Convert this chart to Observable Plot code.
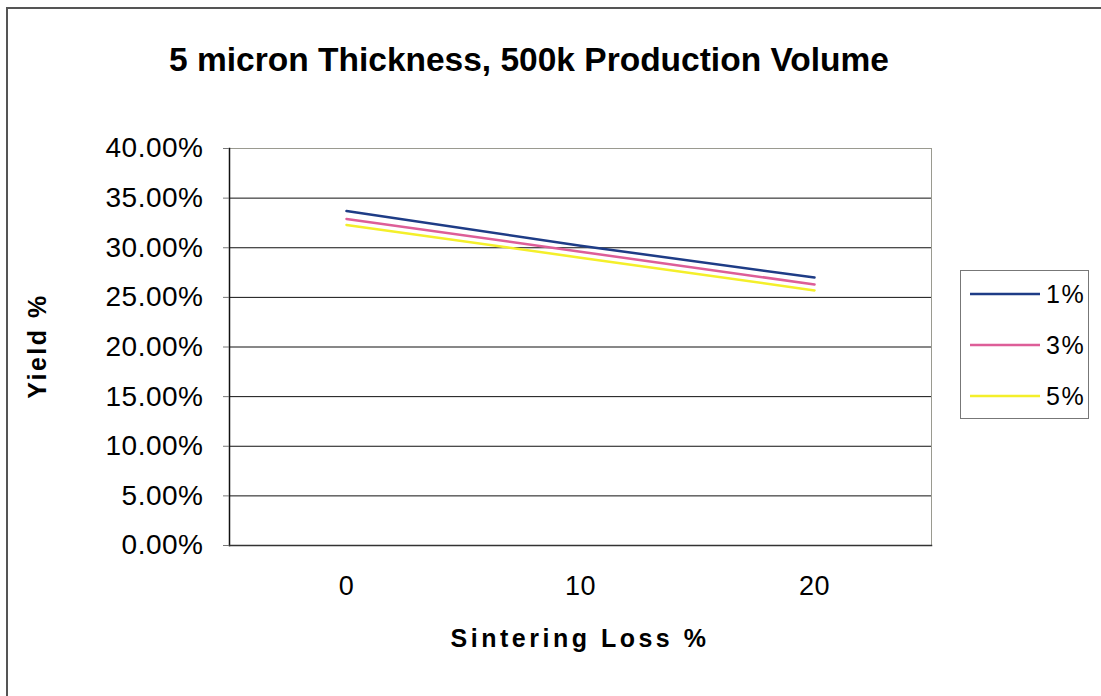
<!DOCTYPE html>
<html>
<head>
<meta charset="utf-8">
<script src="https://cdn.jsdelivr.net/npm/d3@7"></script>
<script src="https://cdn.jsdelivr.net/npm/@observablehq/plot@0.6"></script>
<style>
  html, body { margin: 0; padding: 0; background: #fff; overflow: hidden; }
  body { font-family: "Liberation Sans", Arial, sans-serif; }
  #chart { position: relative; width: 1101px; height: 696px; overflow: hidden; background: #fff; }
  #chart svg.main { position: absolute; left: 0; top: 0; }
  .edge-left { position: absolute; left: 6px; top: 7px; width: 2px; height: 700px; background: #555; }
  .edge-top { position: absolute; left: 6px; top: 7px; width: 1100px; height: 2px; background: #555; }
  .title { position: absolute; left: 0; width: 1058px; top: 41px; text-align: center;
           font-weight: bold; font-size: 33.5px; color: #000; }
  .xlabel { position: absolute; left: 229px; width: 702px; top: 624px; text-align: center;
            font-weight: bold; font-size: 25px; letter-spacing: 3.5px; }
  .ylabel { position: absolute; left: 37px; top: 346px; transform: translate(-50%, -50%) rotate(-90deg);
            font-weight: bold; font-size: 25px; letter-spacing: 2.5px; white-space: nowrap; }
  .legend { position: absolute; left: 960px; top: 270px; width: 129px; height: 149px;
            border: 1px solid #777; box-sizing: border-box; background: #fff; }
  .legend .item { position: absolute; left: 9px; height: 30px; display: flex; align-items: center; }
  .legend .item svg { display: block; }
  .legend .item span { font-size: 25px; margin-left: 6px; letter-spacing: 1.5px; }
</style>
</head>
<body>
<div id="chart"></div>
<script>
// Sintering loss categories on the x axis
const sinteringLoss = ["0", "10", "20"];
// Series (shrinkage %) shown in the legend
const seriesNames = ["1%", "3%", "5%"];
const seriesColors = ["#1e3c86", "#dd5e98", "#f4ef2a"];
// Yield values per series, one per sintering loss category
const yield1 = [0.337, 0.302, 0.270];
const yield3 = [0.329, 0.296, 0.263];
const yield5 = [0.323, 0.290, 0.257];
// Y axis ticks
const yTicks = [0, 0.05, 0.10, 0.15, 0.20, 0.25, 0.30, 0.35, 0.40];

const seriesValues = [yield1, yield3, yield5];
const rows = seriesNames.flatMap((name, i) =>
  sinteringLoss.map((loss, j) => ({series: name, loss, value: seriesValues[i][j]}))
);

const pct = d3.format(".2%");

const plot = Plot.plot({
  width: 1101,
  height: 696,
  marginLeft: 229,
  marginRight: 170,
  marginTop: 148,
  marginBottom: 151,
  style: {fontFamily: '"Liberation Sans", Arial, sans-serif', color: "#000",
          background: "transparent", letterSpacing: "0.5px"},
  x: {type: "point", domain: sinteringLoss, padding: 0.5},
  y: {domain: [0, 0.4]},
  color: {domain: seriesNames, range: seriesColors},
  marks: [
    Plot.gridY(yTicks, {stroke: "#111", strokeOpacity: 1, strokeWidth: 1}),
    Plot.frame({stroke: "#9a9a90", strokeWidth: 1}),
    Plot.frame({anchor: "left", stroke: "#111", strokeWidth: 1.5}),
    Plot.frame({anchor: "bottom", stroke: "#333", strokeWidth: 1.5}),
    Plot.axisY(yTicks, {tickFormat: pct, tickSize: 6, tickPadding: 20, fontSize: 28,
      label: null, stroke: "#777", fill: "#000"}),
    Plot.axisX({tickSize: 0, tickPadding: 30, fontSize: 27, label: null, fill: "#000"}),
    Plot.line(rows, {x: "loss", y: "value", z: "series", stroke: "series", strokeWidth: 2.5})
  ]
});

const chart = document.getElementById("chart");
plot.classList.add("main");
chart.appendChild(plot);

// Chart area border (left and top edges)
for (const cls of ["edge-left", "edge-top"]) {
  const e = document.createElement("div");
  e.className = cls;
  chart.appendChild(e);
}

const title = document.createElement("div");
title.className = "title";
title.textContent = "5 micron Thickness, 500k Production Volume";
chart.appendChild(title);

const xl = document.createElement("div");
xl.className = "xlabel";
xl.textContent = "Sintering Loss %";
chart.appendChild(xl);

const yl = document.createElement("div");
yl.className = "ylabel";
yl.textContent = "Yield %";
chart.appendChild(yl);

// Legend box
const legend = document.createElement("div");
legend.className = "legend";
seriesNames.forEach((name, i) => {
  const item = document.createElement("div");
  item.className = "item";
  item.style.top = (8 + i * 51) + "px";
  item.innerHTML = `<svg width="70" height="6"><line x1="0" x2="70" y1="3" y2="3" stroke="${seriesColors[i]}" stroke-width="2.5"/></svg><span>${name}</span>`;
  legend.appendChild(item);
});
chart.appendChild(legend);
</script>
</body>
</html>
